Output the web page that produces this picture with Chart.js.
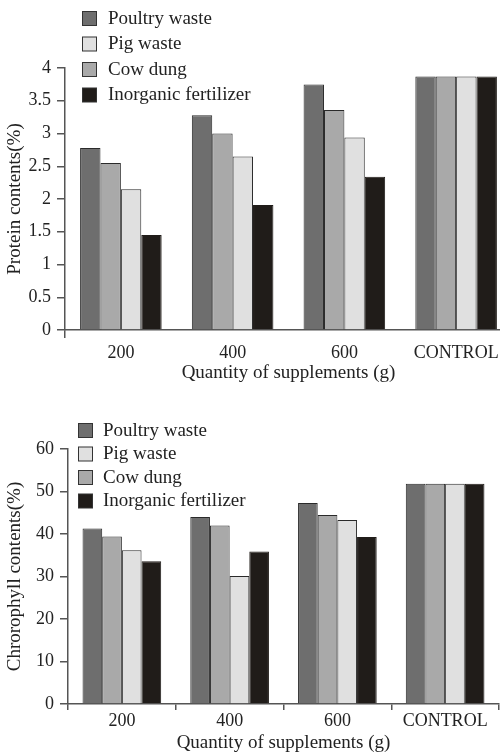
<!DOCTYPE html>
<html>
<head>
<meta charset="utf-8">
<script src="https://cdn.jsdelivr.net/npm/chart.js@4.4.0/dist/chart.umd.min.js"></script>
<style>
  body { margin: 0; width: 500px; height: 755px; overflow: hidden; background: #fff; }
  canvas { position: absolute; left: 0; }
  #protein { top: 0; }
  #chloro { top: 378px; }
</style>
</head>
<body>
<canvas id="protein" width="512" height="385"></canvas>
<canvas id="chloro" width="500" height="377"></canvas>
<script>
const categories = ['200', '400', '600', 'CONTROL'];

// protein (%)
const poultryProtein = [2.78, 3.28, 3.75, 3.87];
const cowProtein = [2.55, 3.0, 3.36, 3.87];
const pigProtein = [2.15, 2.65, 2.94, 3.87];
const inorganicProtein = [1.45, 1.91, 2.34, 3.87];

// chlorophyll (%)
const poultryChloro = [41.3, 44.0, 47.3, 51.8];
const cowChloro = [39.4, 42.0, 44.5, 51.8];
const pigChloro = [36.2, 30.1, 43.3, 51.8];
const inorganicChloro = [33.6, 35.9, 39.3, 51.8];

const legendOrder = ['Poultry waste', 'Pig waste', 'Cow dung', 'Inorganic fertilizer'];

const serif = '"Liberation Serif", "Times New Roman", serif';
const ink = '#222';
const axisGray = '#555';

const colors = {
  'Poultry waste': '#6e6e6e',
  'Cow dung': '#a9a9a9',
  'Pig waste': '#e0e0e0',
  'Inorganic fertilizer': '#201c19'
};

// legend drawn by hand since it overlaps the plot top
const boxLegend = {
  id: 'boxLegend',
  afterDraw(chart, args, opts) {
    const ctx = chart.ctx;
    ctx.save();
    ctx.font = '19px ' + serif;
    ctx.textBaseline = 'middle';
    legendOrder.forEach((name, i) => {
      const y = opts.y + i * opts.gap;
      ctx.fillStyle = colors[name];
      ctx.fillRect(opts.x + 0.5, y - 7 + 0.5, 14, 14);
      ctx.strokeStyle = '#333';
      ctx.lineWidth = 1;
      ctx.strokeRect(opts.x + 0.5, y - 7 + 0.5, 14, 14);
      ctx.fillStyle = ink;
      ctx.fillText(name, opts.textX, y + 1);
    });
    ctx.restore();
  }
};

function makeDatasets(p, c, pg, inorg) {
  const list = [['Poultry waste', p], ['Cow dung', c], ['Pig waste', pg], ['Inorganic fertilizer', inorg]];
  return list.map(([name, vals]) => ({
    label: name,
    data: vals,
    backgroundColor: colors[name],
    borderColor: name === 'Inorganic fertilizer' ? '#201c19' : '#2a2a2a',
    borderWidth: 1,
    borderSkipped: 'bottom',
    barPercentage: 1,
    categoryPercentage: 0.73
  }));
}

function makeChart(id, datasets, cfg) {
  return new Chart(document.getElementById(id), {
    type: 'bar',
    data: { labels: categories, datasets: datasets },
    plugins: [boxLegend],
    options: {
      responsive: false,
      animation: false,
      layout: { padding: { top: cfg.padTop, right: cfg.padRight, left: 0, bottom: 0 } },
      plugins: {
        legend: { display: false },
        tooltip: { enabled: false },
        boxLegend: cfg.legend
      },
      scales: {
        x: {
          afterFit: (s) => { s.height = cfg.xHeight; },
          border: { color: axisGray, width: 1.5 },
          grid: {
            drawOnChartArea: false,
            tickLength: cfg.xTick,
            color: cfg.xTickColor,
            lineWidth: 1.5
          },
          ticks: { color: ink, font: { family: serif, size: 18 }, padding: cfg.xPad, maxRotation: 0 },
          title: {
            display: true,
            text: 'Quantity of supplements (g)',
            color: ink,
            font: { family: serif, size: 19 },
            padding: { top: 0, bottom: 1 }
          }
        },
        y: {
          min: 0,
          max: cfg.yMax,
          afterFit: (s) => { s.width = cfg.yWidth; },
          border: { color: axisGray, width: 1.5 },
          grid: { drawOnChartArea: false, tickLength: 8, color: axisGray, lineWidth: 1.5 },
          ticks: {
            stepSize: cfg.yStep,
            color: ink,
            font: { family: serif, size: 18 },
            padding: 6,
            callback: (v) => String(Math.round(v * 10) / 10)
          },
          title: {
            display: true,
            text: cfg.yTitle,
            color: ink,
            font: { family: serif, size: 19 },
            padding: { top: 4, bottom: 0 }
          }
        }
      }
    }
  });
}

makeChart('protein', makeDatasets(poultryProtein, cowProtein, pigProtein, inorganicProtein), {
  padTop: 68, padRight: 0, xHeight: 55, yWidth: 65, yMax: 4, yStep: 0.5,
  yTitle: 'Protein contents(%)',
  xTick: 8, xPad: 4,
  xTickColor: (c) => (c.index === 0 ? axisGray : 'rgba(0,0,0,0)'),
  legend: { x: 82, y: 18, gap: 25.5, textX: 108 }
});

makeChart('chloro', makeDatasets(poultryChloro, cowChloro, pigChloro, inorganicChloro), {
  padTop: 71, padRight: 1, xHeight: 51, yWidth: 68, yMax: 60, yStep: 10,
  yTitle: 'Chrorophyll contents(%)',
  xTick: 6, xPad: 0,
  xTickColor: axisGray,
  legend: { x: 78, y: 52, gap: 23.5, textX: 103 }
});
</script>
</body>
</html>
